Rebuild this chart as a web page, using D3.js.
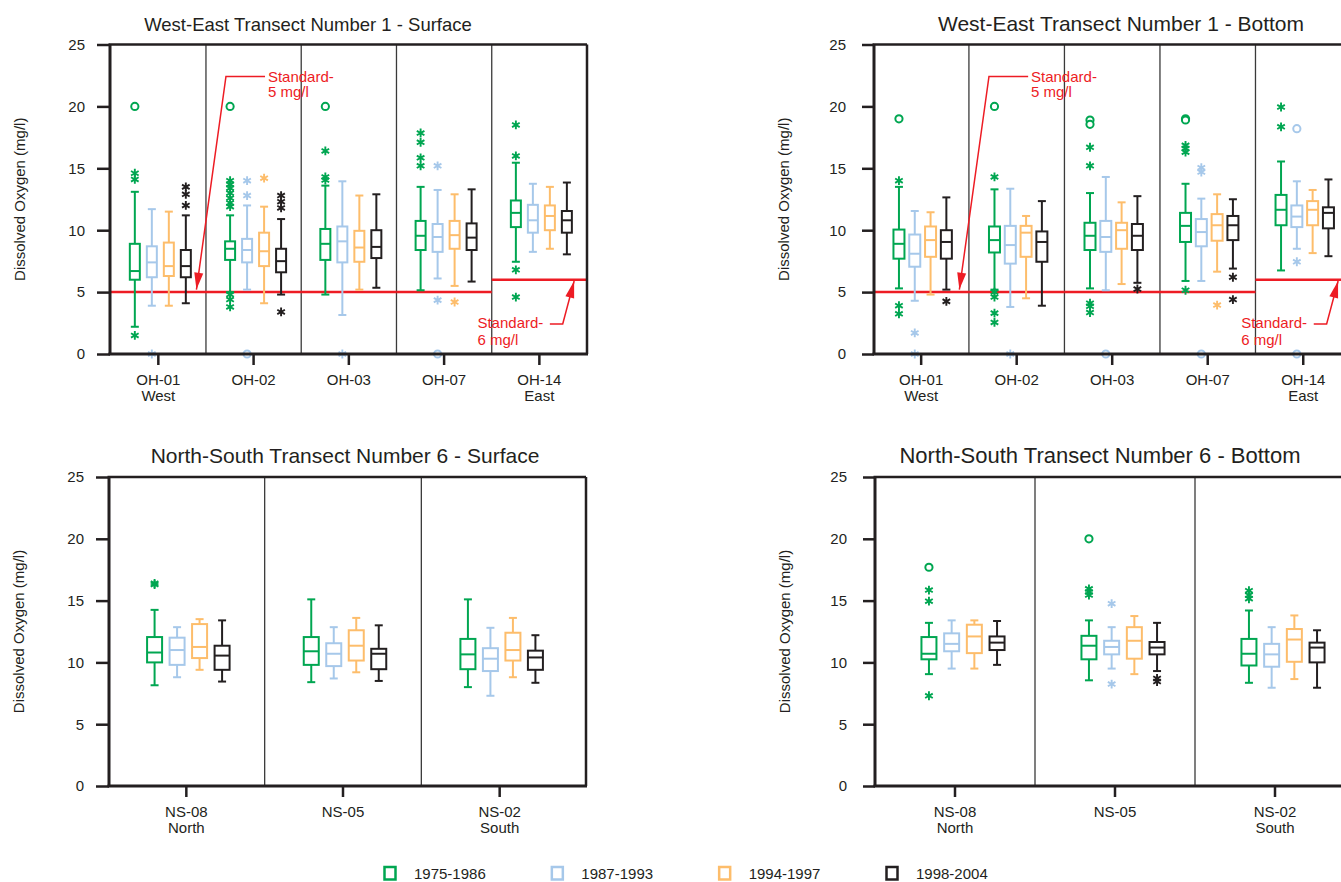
<!DOCTYPE html>
<html><head><meta charset="utf-8">
<script src="https://cdn.jsdelivr.net/npm/d3@7"></script>
<style>body{margin:0;background:#fff;} svg{display:block;font-family:"Liberation Sans",Arial,Helvetica,sans-serif;}</style>
</head><body><svg id="c" width="1341" height="882"></svg>
<script>
// ---------------- DATA ----------------
const seriesNames = ["1975-1986","1987-1993","1994-1997","1998-2004"];
const seriesColors = ["#00a651","#a6c8ea","#fdbd6b","#231f20"];
const weStations = ["OH-01","OH-02","OH-03","OH-07","OH-14"];
const weSubLabels = ["West","","","","East"];
const nsStations = ["NS-08","NS-05","NS-02"];
const nsSubLabels = ["North","","South"];
const yTicks = [0,5,10,15,20,25];
const weStandards = [5,5,5,5,6];
const yTitle = "Dissolved Oxygen (mg/l)";
const panelTitles = ["West-East Transect Number 1 - Surface","West-East Transect Number 1 - Bottom",
  "North-South Transect Number 6 - Surface","North-South Transect Number 6 - Bottom"];

// box stats: [whiskerLow, q1, median, q3, whiskerHigh] per station, per series
const weSurfaceBoxes = [
  [[2.2,6.0,6.7,8.9,13.1],[3.9,6.2,7.4,8.7,11.7],[3.9,6.3,7.1,9.0,11.5],[4.1,6.2,7.1,8.4,11.2]],
  [[5.0,7.6,8.5,9.1,11.2],[5.2,7.4,8.4,9.3,12.0],[4.1,7.1,8.3,9.8,11.9],[4.8,6.6,7.5,8.5,10.9]],
  [[4.8,7.6,8.9,10.1,13.6],[3.15,7.4,9.1,10.3,13.95],[5.2,7.45,8.6,9.95,12.8],[5.35,7.75,8.65,10.0,12.9]],
  [[5.15,8.4,9.55,10.75,13.5],[6.1,8.25,9.45,10.5,13.25],[5.5,8.5,9.6,10.75,12.9],[5.85,8.4,9.4,10.55,13.3]],
  [[7.45,10.25,11.4,12.4,15.45],[8.25,9.8,10.8,12.05,13.75],[8.5,10.0,11.15,12.0,13.5],[8.05,9.8,10.8,11.55,13.85]]
];
// outliers: [value, kind] with kind "*" (asterisk) or "o" (circle)
const weSurfaceOutliers = [
  [[[14.6,"*"],[14.1,"*"],[20,"o"],[1.5,"*"]],[[0,"*"]],[],[[13.5,"*"],[12.9,"*"],[12.0,"*"]]],
  [[[20,"o"],[14.0,"*"],[13.7,"*"],[13.4,"*"],[13.0,"*"],[12.6,"*"],[12.2,"*"],[11.9,"*"],[4.8,"*"],[4.4,"*"],[3.8,"*"]],
   [[14.0,"*"],[12.8,"*"],[0,"o"]],[[14.2,"*"]],[[12.8,"*"],[12.3,"*"],[11.8,"*"],[3.4,"*"]]],
  [[[20,"o"],[16.4,"*"],[14.3,"*"],[14.05,"*"]],[[0,"*"]],[],[]],
  [[[17.85,"*"],[17.1,"*"],[15.85,"*"],[15.2,"*"]],[[15.2,"*"],[4.35,"*"],[0,"o"]],[[4.2,"*"]],[]],
  [[[18.5,"*"],[16.0,"*"],[6.8,"*"],[4.6,"*"]],[],[],[]]
];
const weBottomBoxes = [
  [[5.3,7.7,8.9,10.05,13.5],[4.3,7.05,8.1,9.65,11.55],[4.8,7.85,9.2,10.3,11.45],[5.2,7.7,9.05,10.0,12.65]],
  [[5.2,8.2,9.2,10.3,13.3],[3.8,7.3,8.8,10.35,13.35],[4.5,7.85,9.8,10.35,11.15],[3.9,7.45,9.05,9.9,12.35]],
  [[5.3,8.4,9.55,10.6,13.0],[5.15,8.25,9.45,10.75,14.3],[5.65,8.5,10.0,10.6,12.25],[5.75,8.4,9.55,10.5,12.75]],
  [[5.9,9.05,10.35,11.4,13.75],[5.9,8.7,9.85,10.9,12.55],[6.65,9.15,10.4,11.3,12.9],[6.9,9.2,10.4,11.15,12.5]],
  [[6.75,10.4,11.65,12.85,15.55],[8.5,10.25,11.1,12.0,13.95],[8.15,10.4,11.65,12.35,13.25],[7.9,10.15,11.4,11.85,14.1]]
];
const weBottomOutliers = [
  [[[19,"o"],[14.0,"*"],[3.9,"*"],[3.25,"*"]],[[1.7,"*"],[0,"*"]],[],[[4.25,"*"]]],
  [[[20,"o"],[14.3,"*"],[5.0,"*"],[4.6,"*"],[3.3,"*"],[2.55,"*"]],[[0,"*"]],[],[]],
  [[[18.9,"o"],[18.55,"o"],[16.7,"*"],[15.2,"*"],[4.1,"*"],[3.85,"*"],[3.35,"*"]],[[0,"o"]],[],[[5.25,"*"]]],
  [[[19.0,"o"],[18.9,"o"],[16.85,"*"],[16.6,"*"],[16.3,"*"],[5.15,"*"]],[[15.05,"*"],[14.7,"*"],[0,"o"]],[[3.95,"*"]],[[6.2,"*"],[4.4,"*"]]],
  [[[19.95,"*"],[18.35,"*"]],[[18.2,"o"],[7.45,"*"],[0,"o"]],[],[]]
];
const nsSurfaceBoxes = [
  [[8.15,10.0,10.8,12.05,14.25],[8.8,9.8,11.0,12.0,12.85],[9.4,10.35,11.25,13.1,13.5],[8.45,9.4,10.55,11.35,13.4]],
  [[8.4,9.8,10.9,12.05,15.1],[8.7,9.7,10.7,11.55,12.85],[9.2,10.15,11.35,12.6,13.6],[8.5,9.45,10.7,11.1,13.0]],
  [[8.0,9.45,10.65,11.9,15.1],[7.3,9.3,10.3,11.15,12.8],[8.8,10.15,11.0,12.4,13.6],[8.35,9.4,10.4,10.95,12.2]]
];
const nsSurfaceOutliers = [
  [[[16.3,"*"],[16.4,"*"]],[],[],[]],
  [[],[],[],[]],
  [[],[],[],[]]
];
const nsBottomBoxes = [
  [[9.05,10.25,10.7,12.05,13.2],[9.5,10.9,11.5,12.35,13.4],[9.5,10.75,12.1,13.05,13.4],[9.8,11.0,11.6,12.1,13.35]],
  [[8.55,10.25,11.35,12.15,13.4],[9.5,10.65,11.25,11.75,12.85],[9.05,10.3,11.75,12.85,13.75],[9.3,10.65,11.2,11.65,13.2]],
  [[8.35,9.75,10.7,11.9,14.2],[7.95,9.65,10.65,11.5,12.85],[8.65,10.05,11.85,12.7,13.8],[7.95,10.0,11.2,11.6,12.6]]
];
const nsBottomOutliers = [
  [[[17.7,"o"],[15.85,"*"],[14.95,"*"],[7.3,"*"]],[],[],[]],
  [[[20,"o"],[15.95,"*"],[15.7,"*"],[15.45,"*"]],[[14.75,"*"],[8.25,"*"]],[],[[8.7,"*"],[8.45,"*"]]],
  [[[15.8,"*"],[15.45,"*"],[15.15,"*"]],[],[],[]]
];
// standard annotations (station-index units / mg/l units)
const standardNotes = [
  {lines:["Standard-","5 mg/l"], tx:1.65, tv:[21.96,20.72], path:[[1.62,22.42],[1.21,22.42],[0.9,5.2]]},
  {lines:["Standard-","6 mg/l"], tx:3.85, tv:[2.1,0.72], path:[[4.61,2.42],[4.745,2.42],[4.865,5.9]]}
];

// ---------------- LAYOUT ----------------
const RED = "#ed1c24";
const panels = [
  {title:panelTitles[0], stations:weStations, sub:weSubLabels, boxes:weSurfaceBoxes, outs:weSurfaceOutliers, std:true,
   x0:110, x1:587, band:[110.7,587], y0:354, y1:44.5, boxW:10, step:17, shift:2, tickSize:13, tickPad:12,
   titleX:308, titleSize:18.5},
  {title:panelTitles[1], stations:weStations, sub:weSubLabels, boxes:weBottomBoxes, outs:weBottomOutliers, std:true,
   x0:874, x1:1352, band:[873.4,1351], y0:354, y1:44.5, boxW:11, step:15.8, shift:1.5, tickSize:12, tickPad:16,
   titleX:1121, titleSize:21},
  {title:panelTitles[2], stations:nsStations, sub:nsSubLabels, boxes:nsSurfaceBoxes, outs:nsSurfaceOutliers, std:false,
   x0:109, x1:586, band:[108,578], y0:786, y1:477, boxW:15, step:22.5, shift:2, tickSize:13, tickPad:12,
   titleX:345, titleSize:21},
  {title:panelTitles[3], stations:nsStations, sub:nsSubLabels, boxes:nsBottomBoxes, outs:nsBottomOutliers, std:false,
   x0:875, x1:1355, band:[875,1355], y0:786, y1:477, boxW:15, step:22.7, shift:8, tickSize:12, tickPad:16,
   titleX:1100, titleSize:22}
];

const svg = d3.select("#c");

function asteriskPath(r){
  let p="";
  for(let k=0;k<3;k++){
    const a=Math.PI/2+k*Math.PI/3, dx=r*Math.cos(a), dy=r*Math.sin(a);
    p+=`M${(-dx).toFixed(2)},${(-dy).toFixed(2)}L${dx.toFixed(2)},${dy.toFixed(2)}`;
  }
  return p;
}

function drawPanel(cfg){
  const g = svg.append("g");
  const y = d3.scaleLinear().domain([0,25]).range([cfg.y0,cfg.y1]);
  const x = d3.scaleBand().domain(cfg.stations).range(cfg.band);
  const xi = d3.scaleLinear().domain([0,cfg.stations.length]).range(cfg.band);
  const xs = d3.scaleBand().domain(seriesNames).range([-2*cfg.step, 2*cfg.step]);
  const cx = (st, s) => x(st) + x.bandwidth()/2 + cfg.shift + xs(s) + xs.bandwidth()/2;

  // dividers
  g.selectAll("line.div").data(cfg.stations.slice(1)).join("line")
    .attr("x1",d=>x(d)).attr("x2",d=>x(d)).attr("y1",cfg.y1).attr("y2",cfg.y0)
    .attr("stroke","#3a3a3a").attr("stroke-width",1.3);

  // standard lines
  if(cfg.std){
    g.selectAll("line.std").data(cfg.stations).join("line")
      .attr("x1",(d,i)=> i===0 ? cfg.x0 : x(d))
      .attr("x2",(d,i)=> i===cfg.stations.length-1 ? cfg.x1 : x(d)+x.bandwidth())
      .attr("y1",(d,i)=>y(weStandards[i])).attr("y2",(d,i)=>y(weStandards[i]))
      .attr("stroke",RED).attr("stroke-width",2.5);
  }

  // boxes
  cfg.stations.forEach((st,i)=>{
    seriesNames.forEach((s,j)=>{
      const b = cfg.boxes[i][j], c = cx(st,s), col = seriesColors[j];
      const bg = g.append("g").attr("stroke",col).attr("stroke-width",2).attr("fill","none");
      bg.append("line").attr("x1",c).attr("x2",c).attr("y1",y(b[0])).attr("y2",y(b[1]));
      bg.append("line").attr("x1",c).attr("x2",c).attr("y1",y(b[3])).attr("y2",y(b[4]));
      bg.append("line").attr("x1",c-4).attr("x2",c+4).attr("y1",y(b[0])).attr("y2",y(b[0]));
      bg.append("line").attr("x1",c-4).attr("x2",c+4).attr("y1",y(b[4])).attr("y2",y(b[4]));
      bg.append("rect").attr("x",c-cfg.boxW/2).attr("width",cfg.boxW)
        .attr("y",y(b[3])).attr("height",y(b[1])-y(b[3])).attr("fill","#fff");
      bg.append("line").attr("x1",c-cfg.boxW/2).attr("x2",c+cfg.boxW/2).attr("y1",y(b[2])).attr("y2",y(b[2]));
      (cfg.outs[i][j]||[]).forEach(o=>{
        if(o[1]==="o"){
          bg.append("circle").attr("cx",c).attr("cy",y(o[0])).attr("r",3.6).attr("fill","#fff");
        } else {
          bg.append("path").attr("d",asteriskPath(4.4)).attr("transform",`translate(${c},${y(o[0])})`).attr("stroke-width",1.9);
        }
      });
    });
  });

  // frame
  const fr = g.append("g").attr("stroke","#231f20").attr("fill","none");
  fr.append("line").attr("x1",cfg.x0-1.5).attr("x2",cfg.x1).attr("y1",cfg.y1).attr("y2",cfg.y1).attr("stroke-width",2.5);
  fr.append("line").attr("x1",cfg.x1).attr("x2",cfg.x1).attr("y1",cfg.y1).attr("y2",cfg.y0).attr("stroke-width",2.5);
  fr.append("line").attr("x1",cfg.x0-1.5).attr("x2",cfg.x1+1).attr("y1",cfg.y0).attr("y2",cfg.y0).attr("stroke-width",3);

  // y axis
  const ya = g.append("g").attr("transform",`translate(${cfg.x0},0)`)
    .call(d3.axisLeft(y).tickValues(yTicks).tickSize(cfg.tickSize).tickPadding(cfg.tickPad).tickFormat(d3.format("d")));
  ya.select(".domain").attr("stroke","#231f20").attr("stroke-width",3).attr("d",`M0,${cfg.y1}V${cfg.y0}`);
  ya.selectAll(".tick line").attr("stroke","#231f20").attr("stroke-width",2.5);
  ya.selectAll(".tick text").attr("font-size",15).attr("fill","#231f20").attr("font-family","Liberation Sans, Arial, sans-serif");

  // x axis ticks + labels
  const xa = g.append("g").attr("transform",`translate(0,${cfg.y0})`);
  cfg.stations.forEach((st,i)=>{
    const tx = x(st)+x.bandwidth()/2;
    xa.append("line").attr("x1",tx).attr("x2",tx).attr("y1",0).attr("y2",11).attr("stroke","#231f20").attr("stroke-width",2.5);
    xa.append("text").attr("x",tx).attr("y",30.5).attr("text-anchor","middle").attr("font-size",15).attr("fill","#231f20").text(st);
    if(cfg.sub[i]) xa.append("text").attr("x",tx).attr("y",47).attr("text-anchor","middle").attr("font-size",15).attr("fill","#231f20").text(cfg.sub[i]);
  });

  // y title
  g.append("text").attr("transform",`translate(${cfg.x0-85},${(cfg.y0+cfg.y1)/2}) rotate(-90)`)
    .attr("text-anchor","middle").attr("font-size",15).attr("fill","#231f20").text(yTitle);

  // panel title
  g.append("text").attr("x",cfg.titleX).attr("y",cfg.y1-14).attr("text-anchor","middle")
    .attr("font-size",cfg.titleSize).attr("fill","#231f20").text(cfg.title);

  // standard annotations
  if(cfg.std){
    standardNotes.forEach(n=>{
      const pts = n.path.map(p=>[xi(p[0]), y(p[1])]);
      g.append("path").attr("d",d3.line()(pts)).attr("fill","none").attr("stroke",RED).attr("stroke-width",1.5);
      const a = pts[pts.length-1], b = pts[pts.length-2];
      const ang = Math.atan2(a[1]-b[1], a[0]-b[0]);
      const L=17, W=4.5;
      const bx=a[0]-L*Math.cos(ang), by=a[1]-L*Math.sin(ang);
      const px=-Math.sin(ang)*W, py=Math.cos(ang)*W;
      g.append("path").attr("d",`M${a[0]},${a[1]}L${bx+px},${by+py}L${bx-px},${by-py}Z`).attr("fill",RED);
      n.lines.forEach((t,k)=>{
        g.append("text").attr("x",xi(n.tx)).attr("y",y(n.tv[k])).attr("font-size",15).attr("fill",RED).text(t);
      });
    });
  }
}

panels.forEach(drawPanel);

// legend
const lx = d3.scalePoint().domain(seriesNames).range([390,892]);
const lg = svg.append("g");
seriesNames.forEach((s,j)=>{
  lg.append("rect").attr("x",lx(s)-5.5).attr("y",867).attr("width",11).attr("height",12.5)
    .attr("fill","#fff").attr("stroke",seriesColors[j]).attr("stroke-width",2.5);
  lg.append("text").attr("x",lx(s)+24).attr("y",878.5).attr("font-size",15).attr("fill","#231f20").text(s);
});
</script>
</body></html>
